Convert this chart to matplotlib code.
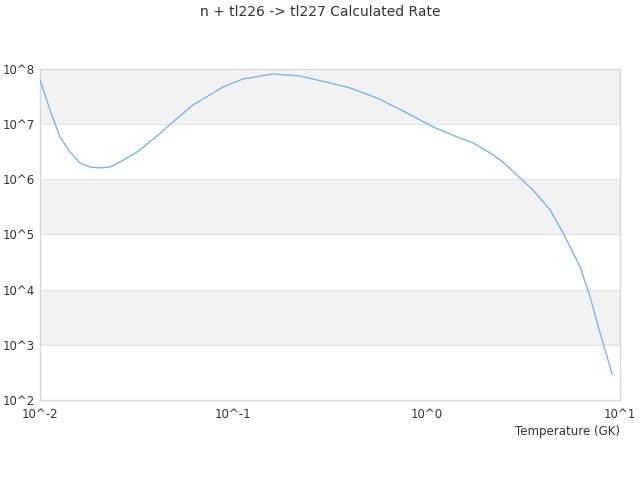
import numpy as np
import matplotlib
matplotlib.use('Agg')
import matplotlib.pyplot as plt

# temperature (GK) and rate
temperature = [0.0100, 0.01127, 0.01268, 0.01429, 0.0161, 0.01815, 0.0204, 0.0230,
               0.0259, 0.0318, 0.0403, 0.0454, 0.0618, 0.0885, 0.1122, 0.160,
               0.221, 0.316, 0.402, 0.553, 0.792, 0.925, 1.08, 1.44, 1.74, 2.13, 2.48, 3.55,
               4.35, 5.08, 6.22, 7.00, 7.89, 9.10]
rate = [6.3e7, 1.81e7, 5.85e6, 3.13e6, 1.98e6, 1.67e6, 1.61e6, 1.67e6,
        2.06e6, 3.13e6, 6.1e6, 8.9e6, 2.22e7, 4.72e7, 6.59e7, 8.11e7,
        7.46e7, 5.57e7, 4.53e7, 2.98e7, 1.59e7, 1.19e7, 8.9e6, 5.85e6, 4.56e6, 3.0e6, 2.06e6, 6.4e5,
        2.78e5, 1.06e5, 2.58e4, 7.4e3, 1.64e3, 297]

x_ticks = [0.01, 0.1, 1, 10]
x_tick_labels = ['10^-2', '10^-1', '10^0', '10^1']
y_ticks = [1e2, 1e3, 1e4, 1e5, 1e6, 1e7, 1e8]
y_tick_labels = ['10^2', '10^3', '10^4', '10^5', '10^6', '10^7', '10^8']

fig = plt.figure(figsize=(6.4, 4.8), dpi=100)
ax = fig.add_axes([0.0625, 0.1667, 0.90625, 0.6896])
ax.set_xscale('log')
ax.set_yscale('log')
ax.set_xlim(0.01, 10)
ax.set_ylim(1e2, 1e8)

# alternating bands
for i in range(len(y_ticks) - 1):
    if i % 2 == 1:
        ax.axhspan(y_ticks[i], y_ticks[i + 1], color='#f2f2f2', zorder=0, lw=0)
for yv in y_ticks[1:-1]:
    ax.axhline(yv, color='#e6e6e6', lw=1, zorder=1)

ax.plot(temperature, rate, color='#7cb5ec', lw=1, zorder=3)

ax.set_xticks(x_ticks)
ax.set_xticklabels(x_tick_labels)
ax.set_yticks(y_ticks)
ax.set_yticklabels(y_tick_labels)
ax.minorticks_off()
ax.tick_params(axis='both', length=0, labelsize=8.5, colors='#333333')
ax.tick_params(axis='y', pad=4)
ax.tick_params(axis='x', pad=6)
for sp in ax.spines.values():
    sp.set_color('#d8d8d8')
    sp.set_linewidth(1)

fig.text(0.5, 0.975, 'n + tl226 -> tl227 Calculated Rate', ha='center', va='center',
         fontsize=10, color='#333333')
fig.text(0.96875, 0.102, 'Temperature (GK)', ha='right', va='center',
         fontsize=8.5, color='#333333')

fig.savefig('out.png', dpi=100)
